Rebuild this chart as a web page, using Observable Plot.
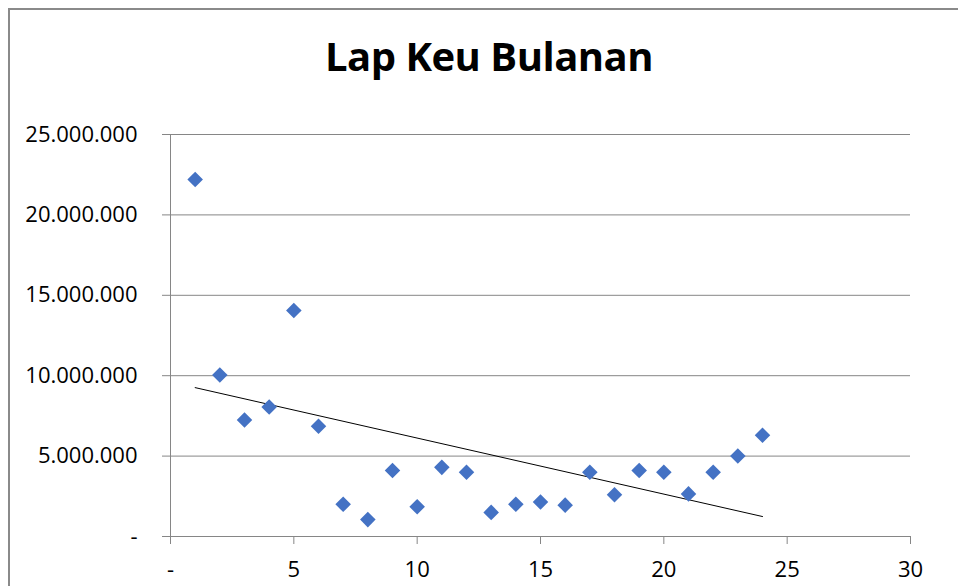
<!DOCTYPE html>
<html>
<head>
<meta charset="utf-8">
<script src="https://cdn.jsdelivr.net/npm/d3@7"></script>
<script src="https://cdn.jsdelivr.net/npm/@observablehq/plot@0.6"></script>
<style>
  html, body { margin: 0; padding: 0; background: #fff; overflow: hidden; }
  #wrap { position: relative; width: 958px; height: 586px; }
  #frame { position: absolute; left: 8px; top: 8px; width: 2000px; height: 2000px;
           border-top: 2px solid #8a8a8a; border-left: 2px solid #8a8a8a; pointer-events: none; }
  #title { height: 100px; width: 958px; text-align: center; font-family: "Open Sans", sans-serif;
           font-weight: 700; font-size: 40px; line-height: 1; padding-top: 0; box-sizing: border-box; }
  #title span { position: relative; top: 36px; left: 10px; letter-spacing: -0.5px; }
  #chart svg { display: block; }
</style>
</head>
<body>
<div id="wrap">
  <div id="frame"></div>
  <div id="title"><span>Lap Keu Bulanan</span></div>
  <div id="chart"></div>
</div>
<script>
const months = [1, 2, 3, 4, 5, 6, 7, 8, 9, 10, 11, 12, 13, 14, 15, 16, 17, 18, 19, 20, 21, 22, 23, 24];
const amounts = [22200000, 10050000, 7250000, 8050000, 14050000, 6850000, 2000000, 1050000,
                 4100000, 1850000, 4300000, 4000000, 1500000, 2000000, 2150000, 1950000,
                 4000000, 2600000, 4100000, 4000000, 2650000, 4000000, 5000000, 6300000];
const xTicks = [0, 5, 10, 15, 20, 25, 30];
const yTicks = [0, 5000000, 10000000, 15000000, 20000000, 25000000];

const data = months.map((m, i) => ({month: m, amount: amounts[i]}));
const fmtY = d => d === 0 ? "-" : d3.format(",")(d).replace(/,/g, ".");
const fmtX = d => d === 0 ? "-" : String(d);
const gray = "#868686";

const chart = Plot.plot({
  width: 958,
  height: 486,
  marginTop: 34,
  marginBottom: 50,
  marginLeft: 170,
  marginRight: 48,
  style: {fontFamily: "'Open Sans', sans-serif", fontSize: "22px", color: "#000", background: "transparent"},
  x: {domain: [0, 30]},
  y: {domain: [0, 25000000]},
  marks: [
    Plot.gridY(yTicks, {stroke: gray, strokeOpacity: 1, strokeWidth: 1}),
    Plot.ruleX([0], {stroke: gray, strokeWidth: 1}),
    Plot.axisY(yTicks, {tickFormat: fmtY, tickSize: 8, tickPadding: 25, stroke: gray, fill: "#000", label: null}),
    Plot.axisX(xTicks, {tickFormat: fmtX, tickSize: 8, tickPadding: 17, stroke: gray, fill: "#000", label: null}),
    Plot.linearRegressionY(data, {x: "month", y: "amount", stroke: "#000", strokeWidth: 1, ci: 0}),
    Plot.dot(data, {x: "month", y: "amount", symbol: "diamond2", r: 7, fill: "#4472C4", stroke: "none"})
  ]
});
document.getElementById("chart").appendChild(chart);
</script>
</body>
</html>
